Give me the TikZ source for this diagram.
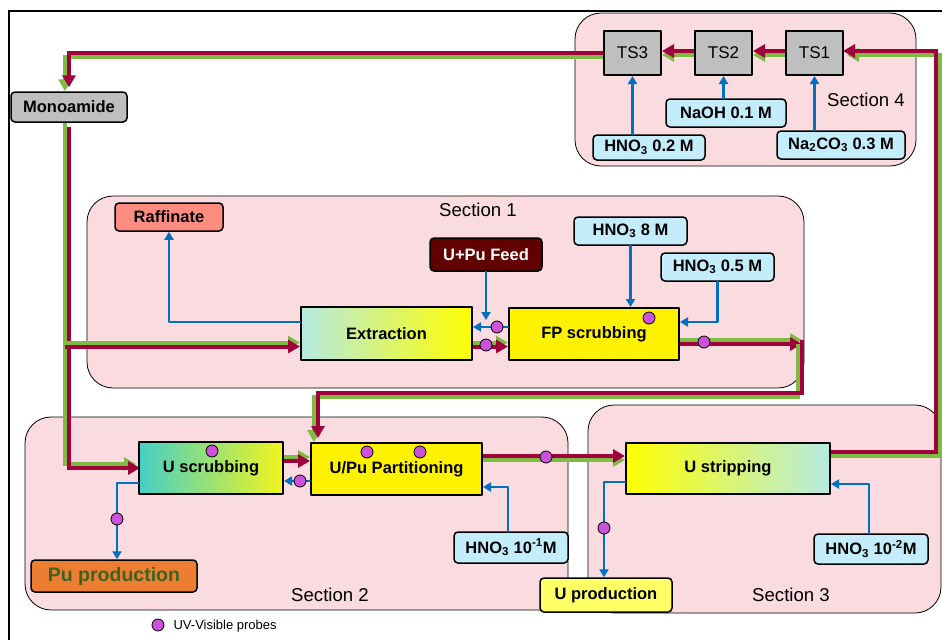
\documentclass[tikz,border=0pt]{standalone}
\usepackage{fontspec}
\setmainfont{Liberation Sans}
\usepackage{xcolor}
\usetikzlibrary{arrows.meta,calc}
\definecolor{pipered}{HTML}{A0003C}
\definecolor{pipegreen}{HTML}{7DBB42}
\definecolor{flowblue}{HTML}{0070C0}
\definecolor{sectpink}{HTML}{F9DBE0}
\definecolor{acidblue}{HTML}{C3EDFA}
\definecolor{tsgray}{HTML}{BFBFBF}
\definecolor{raffred}{HTML}{FF8C80}
\definecolor{feedred}{HTML}{600000}
\definecolor{probecol}{HTML}{CC52D9}
\definecolor{puorange}{HTML}{ED7D31}
\definecolor{pugreen}{HTML}{3B6322}
\definecolor{uprodyellow}{HTML}{FFFF66}
\definecolor{extcyan}{HTML}{B5EAE3}
\definecolor{scrteal}{HTML}{45CFC6}
\definecolor{scryellow}{HTML}{F2F51E}
\pgfdeclarelayer{bg}
\pgfdeclarelayer{pipes}
\pgfsetlayers{bg,pipes,main}

\begin{document}
\begin{tikzpicture}[line cap=round,line join=round,x=1pt,y=-1pt,
    lab/.style={font=\fontsize{16.5}{18}\selectfont\bfseries},
    box/.style={draw=black,line width=2pt,rectangle,inner sep=0pt,lab},
    tsbox/.style={box,fill=tsgray,minimum width=57pt,minimum height=44pt,font=\fontsize{17}{18}\selectfont},
    tag/.style={draw=black,line width=1.5pt,rounded corners=4pt,inner sep=0pt,lab},
    acid/.style={tag,fill=acidblue},
    sect/.style={draw=black,line width=0.8pt,fill=sectpink,rounded corners=26pt},
    secttext/.style={font=\fontsize{18.6}{20}\selectfont},
    pipe/.style={line width=4pt,line cap=butt,draw=pipegreen,postaction={draw=pipered,transform canvas={shift={#1}}}},
    pipetip/.style={-{Triangle[width=13pt,length=12pt]}},
    flow/.style={draw=flowblue,line width=2.2pt,-{Triangle[width=9pt,length=8pt]}},
    probe/.style={circle,draw=black,line width=0.8pt,fill=probecol,minimum size=12pt,inner sep=0pt}]
  \useasboundingbox (0,0) rectangle (942,640);
  \begin{pgfonlayer}{bg}
    \draw [sect] (575,13) rectangle (916,166);
    \draw [sect] (87,196) rectangle (804,388);
    \draw [sect] (25,417) rectangle (568,610);
    \draw [sect] (588,405) rectangle (941,613);
    \draw [line width=2pt,line cap=butt] (9,640) -- (9,11) -- (942,11);
  \end{pgfonlayer}

  \node [tsbox] (ts3) at (632.5,53) {TS3};
  \node [tsbox] (ts2) at (723.5,53) {TS2};
  \node [tsbox] (ts1) at (814.5,53) {TS1};
  \node [acid,minimum width=112pt,minimum height=25pt] (hno3a) at (649,147.5) {HNO\textsubscript{3} 0.2 M};
  \node [acid,minimum width=120pt,minimum height=28pt] (naoh) at (726,113) {NaOH 0.1 M};
  \node [acid,minimum width=128pt,minimum height=28pt] (naco) at (841,145) {Na\textsubscript{2}CO\textsubscript{3} 0.3 M};
  \node [secttext] (sec4) at (866,100) {Section 4};

  \node [tag,fill=tsgray,minimum width=116pt,minimum height=30pt] (mono) at (69,107) {Monoamide};

  \node [secttext] (sec1) at (478,210) {Section 1};
  \node [tag,fill=raffred,minimum width=108pt,minimum height=28pt] (raff) at (169,217) {Raffinate};
  \node [box,left color=extcyan,right color=yellow,minimum width=171pt,minimum height=53pt] (ext) at (386.5,333.5) {Extraction};
  \node [tag,fill=feedred,text=white,minimum width=112pt,minimum height=33pt] (feed) at (486,254.5) {U+Pu Feed};
  \node [box,fill=yellow,minimum width=170pt,minimum height=52pt] (fps) at (594,334) {FP scrubbing};
  \node [acid,minimum width=113pt,minimum height=28pt] (hno3b) at (630.5,231) {HNO\textsubscript{3} 8 M};
  \node [acid,minimum width=113pt,minimum height=28pt] (hno3c) at (717.5,267) {HNO\textsubscript{3} 0.5 M};

  \node [secttext] (sec2) at (330,595) {Section 2};
  \node [box,left color=scrteal,right color=scryellow,minimum width=144pt,minimum height=52pt] (uscr) at (211,468) {U scrubbing};
  \node [box,fill=yellow,minimum width=171pt,minimum height=52pt] (upu) at (396.5,469) {U/Pu Partitioning};
  \node [tag,fill=puorange,text=pugreen,minimum width=166pt,minimum height=32pt,font=\fontsize{19.5}{21}\selectfont\bfseries] (puprod) at (114,576) {Pu production};
  \node [acid,minimum width=114pt,minimum height=31pt] (hno3d) at (511,547.5) {HNO\textsubscript{3} 10\textsuperscript{-1}M};

  \node [secttext] (sec3) at (791,595) {Section 3};
  \node [box,left color=yellow,right color=extcyan,minimum width=204pt,minimum height=51pt] (ustr) at (728,468.5) {U stripping};
  \node [acid,minimum width=114pt,minimum height=30pt] (hno3e) at (871,549) {HNO\textsubscript{3} 10\textsuperscript{-2}M};
  \node [tag,fill=uprodyellow,minimum width=132pt,minimum height=34pt] (uprod) at (606,595) {U production};

  \coordinate (turn) at ($(fps.east)+(122,6)$);
  \begin{pgfonlayer}{pipes}
    \draw [pipe={(4pt,4pt)},pipetip] ($(ts3.west)+(0,4)$) -| ($(mono.north)+(-4,0)$);
    \draw [pipe={(4pt,-4pt)},pipetip] ($(mono.south)+(-4,0)$) |- ($(uscr.west)+(-2,-4)$);
    \draw [pipe={(0pt,-4pt)},pipetip] ($(mono.south |- ext.west)+(-4,9)$) -- ($(ext.west)+(0,9)$);
    \draw [pipe={(0pt,-4pt)},pipetip] ($(ext.east)+(0,9)$) -- ($(fps.west |- ext.east)+(0,9)$);
    \draw [pipe={(0pt,-4pt)},pipetip] ($(fps.east)+(0,6)$) -- (turn);
    \draw [pipe={(4pt,4pt)},pipetip] ($(turn)+(-4,4)$) |- ($(upu.north west)+(4,-45)$) -- ($(upu.north west)+(4,0)$);
    \draw [pipe={(0pt,-4pt)},pipetip] ($(uscr.east)+(0,-11)$) -- ($(upu.west |- uscr.east)+(0,-11)$);
    \draw [pipe={(0pt,4pt)},pipetip] ($(upu.east)+(0,-9)$) -- ($(ustr.west |- upu.east)+(0,-9)$);
    \draw [pipe={(-4pt,4pt)},pipetip] ($(ustr.east)+(0,-13)$) -| ($(ts1.east)+(96,2)$) -- ($(ts1.east)+(3,2)$);
    \draw [pipe={(0pt,4pt)},pipetip] ($(ts1.west)+(0,2)$) -- ($(ts2.east)+(0,2)$);
    \draw [pipe={(0pt,4pt)},pipetip] ($(ts2.west)+(0,2)$) -- ($(ts3.east)+(0,2)$);
  \end{pgfonlayer}

  \draw [flow] (hno3a.north -| ts3.south) -- (ts3.south);
  \draw [flow] (naoh.north -| ts2.south) -- (ts2.south);
  \draw [flow] (naco.north -| ts1.south) -- (ts1.south);
  \draw [flow] ($(ext.west)+(0,-11.5)$) -| (raff.south);
  \draw [flow] (feed.south) -- ($(feed.south |- fps.west)+(0,-14)$);
  \draw [flow] ($(fps.west)+(0,-7)$) -- ($(ext.east |- fps.west)+(0,-7)$);
  \draw [flow] (hno3b.south) -- (hno3b.south |- fps.north);
  \draw [flow] (hno3c.south) |- ($(fps.east)+(0,-12)$);
  \draw [flow] ($(upu.west)+(0,12)$) -- ($(uscr.east |- upu.west)+(0,12)$);
  \draw [flow] ($(uscr.west)+(0,15)$) -| ($(puprod.north)+(3,0)$);
  \draw [flow] ($(hno3d.north)+(-3,0)$) |- ($(upu.east)+(0,18)$);
  \draw [flow] ($(ustr.west)+(0,13.5)$) -| ($(uprod.north)+(-2,0)$);
  \draw [flow] ($(hno3e.north)+(-2,0)$) |- ($(ustr.east)+(0,15.5)$);

  \node [probe] (p1) at (497,327) {};
  \node [probe] (p2) at (486,345) {};
  \node [probe] (p3) at (649,318) {};
  \node [probe] (p4) at (704,342) {};
  \node [probe] (p5) at (212,451) {};
  \node [probe] (p6) at (367,452) {};
  \node [probe] (p7) at (420,452) {};
  \node [probe] (p8) at (300,481) {};
  \node [probe] (p9) at (117,519) {};
  \node [probe] (p10) at (546,457) {};
  \node [probe] (p11) at (604,528) {};
  \node [probe] (key) at (158,625) {};
  \node [anchor=west,inner sep=0pt,font=\fontsize{13}{14}\selectfont] (keytext) at ($(key.east)+(9,1)$) {UV-Visible probes};
\end{tikzpicture}
\end{document}
